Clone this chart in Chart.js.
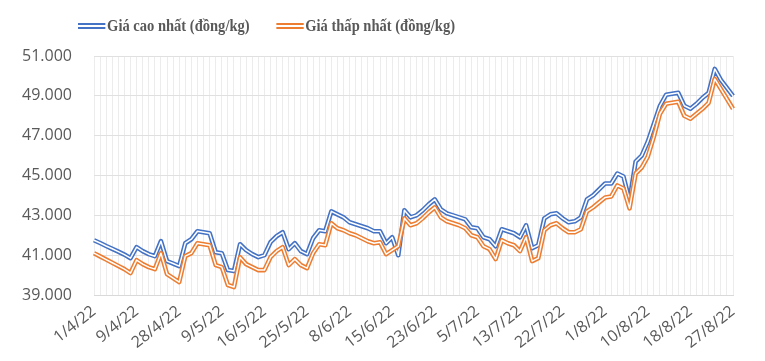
<!DOCTYPE html>
<html lang="vi">
<head>
    <meta charset="UTF-8">
    <title>Giá cao nhất / thấp nhất</title>
    <style>
        body {
            margin: 0;
            background: #ffffff;
        }
        #wrap {
            position: relative;
            width: 765px;
            height: 361px;
        }
        #legend {
            position: absolute;
            top: 16px;
            left: 78px;
            display: flex;
            align-items: center;
            font-family: "Liberation Serif", serif;
            font-weight: bold;
            font-size: 17px;
            color: #595959;
            transform: scaleX(0.855);
            transform-origin: left center;
        }
        .item {
            display: flex;
            align-items: center;
            margin-right: 31px;
        }
        .mark {
            width: 32px;
            height: 2px;
            border-top: 2px solid;
            border-bottom: 2px solid;
            margin-right: 2px;
        }
    </style>
    <script src="https://cdn.jsdelivr.net/npm/chart.js"></script>
</head>
<body>
<div id="wrap">
    <canvas id="myChart"></canvas>
    <div id="legend"></div>
</div>
<script>
    const seriesNames = ["Giá cao nhất (đồng/kg)", "Giá thấp nhất (đồng/kg)"];
    const seriesColors = ["#4472C4", "#ED7D31"];

    // a date label is shown on every 7th point
    const tickLabels = ["1/4/22", "9/4/22", "28/4/22", "9/5/22", "16/5/22", "25/5/22", "8/6/22", "15/6/22",
        "23/6/22", "5/7/22", "13/7/22", "22/7/22", "1/8/22", "10/8/22", "18/8/22", "27/8/22"];
    const labelEvery = 7;

    const highPrice = [
        41750, 41610, 41460, 41320, 41180, 41030, 40850, 41400, 41200, 41050,
        40950, 41700, 40700, 40580, 40450, 41600, 41800, 42200, 42150, 42100,
        41150, 41100, 40250, 40200, 41550, 41250, 41050, 40900, 41000, 41650,
        41950, 42150, 41300, 41600, 41200, 41050, 41850, 42250, 42200, 43200,
        43050, 42900, 42650, 42550, 42450, 42350, 42200, 42200, 41600, 41900,
        41000, 43250, 42900, 43000, 43250, 43550, 43800, 43300, 43100, 43000,
        42900, 42800, 42400, 42350, 41900, 41800, 41450, 42300, 42200, 42100,
        41900, 42500, 41350, 41500, 42850, 43050, 43100, 42850, 42650, 42700,
        42900, 43800, 44000, 44300, 44600, 44600, 45100, 44950, 43750, 45700,
        46000, 46700, 47600, 48500, 49050, 49100, 49150, 48500, 48350, 48600,
        48900, 49150, 50350, 49800, 49400, 49000
    ];
    const lowPrice = [
        41100, 40940, 40780, 40620, 40460, 40300, 40100, 40750, 40550, 40400,
        40300, 41100, 40050, 39850, 39650, 40950, 41100, 41600, 41550, 41500,
        40500, 40400, 39500, 39400, 40900, 40550, 40400, 40250, 40250, 40900,
        41200, 41400, 40500, 40800, 40500, 40350, 41100, 41550, 41500, 42600,
        42350, 42250, 42100, 42000, 41850, 41700, 41600, 41650, 41050, 41250,
        41450, 42850, 42500, 42600, 42850, 43150, 43400, 42900, 42700, 42600,
        42500, 42350, 42000, 41900, 41450, 41300, 40800, 41750, 41600, 41500,
        41200, 41900, 40700, 40850, 42250, 42500, 42600, 42350, 42150, 42150,
        42300, 43200, 43400, 43650, 43900, 43950, 44500, 44350, 43350, 45100,
        45400, 45950, 46950, 48100, 48600, 48650, 48700, 48000, 47850, 48100,
        48350, 48650, 49850, 49350, 48850, 48350
    ];

    const categories = highPrice.map((v, i) => i);

    // Excel style double line: a wide coloured stroke with a thin white one on top
    function doubleLine(data, color, order) {
        return [
            { data: data, borderColor: color, borderWidth: 4.6, order: order + 1 },
            { data: data, borderColor: "#ffffff", borderWidth: 1.5, order: order }
        ];
    }

    const datasets = [
        ...doubleLine(highPrice, seriesColors[0], 2),
        ...doubleLine(lowPrice, seriesColors[1], 0)
    ];

    const fmt = v => String(v).replace(/\B(?=(\d{3})+(?!\d))/g, ".");
    const tickFont = { family: "'Open Sans', sans-serif", size: 16 };

    new Chart(document.getElementById("myChart"), {
        type: "line",
        data: { labels: categories, datasets: datasets },
        options: {
            responsive: true,
            maintainAspectRatio: false,
            animation: false,
            layout: { padding: { top: 56, right: 32, left: 8, bottom: 0 } },
            elements: {
                point: { radius: 0 },
                line: { tension: 0, borderCapStyle: "butt", borderJoinStyle: "round" }
            },
            plugins: { legend: { display: false }, tooltip: { enabled: false } },
            scales: {
                x: {
                    afterFit: s => { s.height = 66; },
                    grid: { color: "#ececec", drawTicks: false },
                    border: { color: "#d9d9d9" },
                    ticks: {
                        autoSkip: false,
                        minRotation: 38,
                        maxRotation: 38,
                        padding: 7,
                        color: "#595959",
                        font: tickFont,
                        callback: (val, idx) => idx % labelEvery === 0 ? tickLabels[idx / labelEvery] : ""
                    }
                },
                y: {
                    min: 39000,
                    max: 51000,
                    afterFit: s => { s.width = 86; },
                    grid: { color: "#e0e0e0", drawTicks: false },
                    border: { display: false },
                    ticks: {
                        stepSize: 2000,
                        padding: 22,
                        color: "#595959",
                        font: tickFont,
                        callback: v => fmt(v)
                    }
                }
            }
        }
    });

    // legend as html
    const legend = document.getElementById("legend");
    seriesNames.forEach((name, i) => {
        const item = document.createElement("div");
        item.className = "item";
        const mark = document.createElement("span");
        mark.className = "mark";
        mark.style.borderColor = seriesColors[i];
        const text = document.createElement("span");
        text.textContent = name;
        item.appendChild(mark);
        item.appendChild(text);
        legend.appendChild(item);
    });
</script>
</body>
</html>
